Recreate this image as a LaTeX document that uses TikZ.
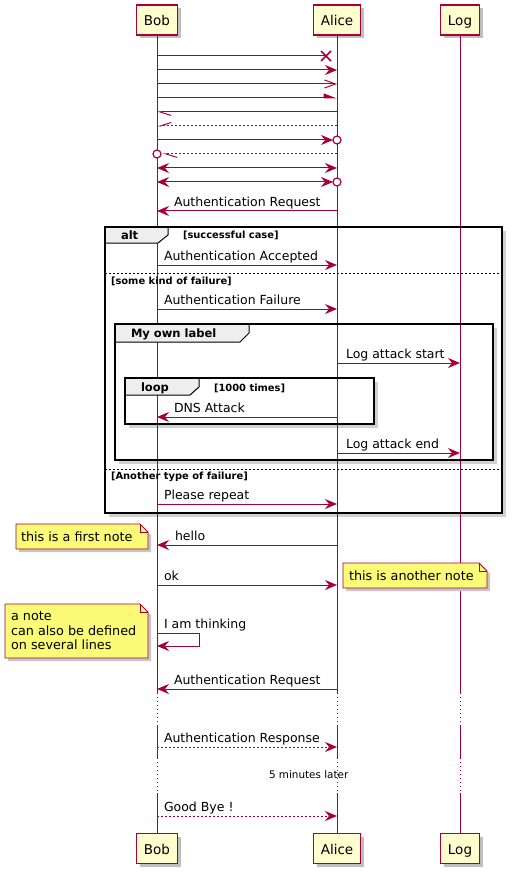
\documentclass[tikz,border=0pt]{standalone}
\usepackage{fontspec}
\setmainfont{DejaVu Sans}
\usetikzlibrary{arrows.meta,shadows,calc}
\definecolor{uline}{HTML}{A80036}
\definecolor{pfill}{HTML}{FEFECE}
\definecolor{nfill}{HTML}{FBFB77}
\definecolor{tabfill}{HTML}{EEEEEE}
\newcommand\umlnote[4]{%
  \fill[black!22] (#1+3,#2+3) -- (#3-8+3,#2+3) -- (#3+3,#2+8+3) -- (#3+3,#4+3) -- (#1+3,#4+3) -- cycle;
  \filldraw[fill=nfill,draw=uline,line width=0.8pt] (#1,#2) -- (#3-8,#2) -- (#3,#2+8) -- (#3,#4) -- (#1,#4) -- cycle;
  \draw[uline,line width=0.8pt] (#3-8,#2) -- (#3-8,#2+8) -- (#3,#2+8);}
\newcommand\umlfshadow[4]{%
  \fill[black!18] (#3+0.75,#2+4) rectangle (#3+3.5,#4+3.5);
  \fill[black!18] (#1+4,#4+0.75) rectangle (#3+3.5,#4+3.5);}
\begin{document}
\begin{tikzpicture}[x=1pt,y=-1pt,
  every node/.style={inner sep=0pt,outer sep=0pt},
  part/.style={draw=uline,fill=pfill,line width=1.3pt,minimum height=30pt,text height=11pt,text depth=0pt,
    font=\fontsize{13.5}{16}\selectfont,
    drop shadow={shadow xshift=3pt,shadow yshift=-3pt,opacity=0.25,fill=black}},
  life/.style={draw=uline,line width=0.9pt},
  lifedot/.style={life,dash pattern=on 1pt off 3pt},
  msg/.style={draw=uline,line width=1pt},
  dmsg/.style={msg,dash pattern=on 2pt off 2pt},
  txt/.style={anchor=base west,font=\fontsize{12.5}{15}\selectfont},
  glabel/.style={anchor=base west,font=\fontsize{11.5}{14}\selectfont\bfseries},
  gcond/.style={anchor=base west,font=\fontsize{9.9}{12}\selectfont\bfseries},
  umlframe/.style={draw=black,line width=1.5pt},
  umltab/.style={fill=tabfill,draw=black,line width=1pt},
  sepline/.style={draw=black,line width=0.8pt,dash pattern=on 2pt off 2pt},
  ntxt/.style={anchor=base west,font=\fontsize{12.8}{15}\selectfont},
  endcirc/.style={draw=uline,fill=white,line width=1.2pt},
  >={Stealth[length=12pt,width=10pt,inset=4pt]}
]
\fill[white] (0,0) rectangle (515,877);
\useasboundingbox (0,0) rectangle (515,877);

% frame shadows
\umlfshadow{105}{227}{502}{513}
\umlfshadow{115}{324}{493}{460}
\umlfshadow{125}{378}{374}{424}

% participants
\node[part,minimum width=41pt] (bob-top) at (157,20) {Bob};
\node[part,minimum width=47pt] (alice-top) at (337,20) {Alice};
\node[part,minimum width=39pt] (log-top) at (460,20) {Log};
\node[part,minimum width=41pt] (bob-bot) at (157,848.5) {Bob};
\node[part,minimum width=47pt] (alice-bot) at (337,848.5) {Alice};
\node[part,minimum width=39pt] (log-bot) at (460,848.5) {Log};

% lifelines
\foreach \p in {bob,alice,log}{
  \draw[life] (\p-top.south) -- (\p-top |- 0,693);
  \draw[lifedot] (\p-top |- 0,693) -- (\p-top |- 0,725);
  \draw[life] (\p-top |- 0,725) -- (\p-top |- 0,758);
  \draw[lifedot] (\p-top |- 0,758) -- (\p-top |- 0,793);
  \draw[life] (\p-top |- 0,793) -- (\p-bot.north);
}

% arrow variety
\coordinate (xend) at (326,56);
\draw[msg] (bob-top |- 0,56) -- (xend);
\draw[uline,line width=1.6pt] ($(xend)+(-5,-5)$) -- ($(xend)+(5,5)$) ($(xend)+(-5,5)$) -- ($(xend)+(5,-5)$);
\draw[msg,->] (bob-top |- 0,70) -- (alice-top |- 0,70);
\draw[msg,-{Straight Barb[length=11pt,width=8pt]}] (bob-top |- 0,84) -- (alice-top |- 0,84);
\draw[msg,-{Triangle[length=12pt,width=9pt,harpoon]}] (bob-top |- 0,98) -- (alice-top |- 0,98);
\draw[msg,-{Straight Barb[length=11pt,width=7pt,harpoon]}] (alice-top |- 0,112) -- (bob-top |- 0,112);
\draw[dmsg,-{Straight Barb[length=11pt,width=7pt,harpoon,swap]}] (alice-top |- 0,126) -- (bob-top |- 0,126);
\draw[msg,->] (bob-top |- 0,140) -- ($(alice-top |- 0,140)+(-4,0)$);
\draw[endcirc] (alice-top |- 0,140) circle (4pt);
\draw[dmsg,-{Straight Barb[length=11pt,width=7pt,harpoon]}] (alice-top |- 0,154) -- ($(bob-top |- 0,154)+(6,0)$);
\draw[endcirc] (bob-top |- 0,154) circle (4pt);
\draw[msg,<->] (bob-top |- 0,168) -- (alice-top |- 0,168);
\draw[msg,<->] (bob-top |- 0,182) -- ($(alice-top |- 0,182)+(-4,0)$);
\draw[endcirc] (alice-top |- 0,182) circle (4pt);

\draw[msg,->] (alice-top |- 0,211) -- (bob-top |- 0,211);
\node[txt] (m11) at (174,206.5) {Authentication Request};

% alt frame
\draw[umltab] (105,227) -- (168,227) -- (168,235) -- (158,243) -- (105,243) -- cycle;
\draw[umlframe] (105,227) rectangle (502,513);
\node[glabel] (altl) at (121,239.5) {alt};
\node[gcond] (altc) at (183,238.5) {[successful case]};
\draw[msg,->] (bob-top |- 0,265) -- (alice-top |- 0,265);
\node[txt] (m12) at (164,260.5) {Authentication Accepted};
\draw[sepline] (105,273) -- (502,273);
\node[gcond] (altc2) at (111,284) {[some kind of failure]};
\draw[msg,->] (bob-top |- 0,309) -- (alice-top |- 0,309);
\node[txt] (m13) at (164,304.5) {Authentication Failure};

% group
\draw[umltab] (115,324) -- (249,324) -- (249,333) -- (240,342) -- (115,342) -- cycle;
\draw[umlframe] (115,324) rectangle (493,460);
\node[glabel] (grl) at (131,337) {My own label};
\draw[msg,->] (alice-top |- 0,363) -- (log-top |- 0,363);
\node[txt] (m14) at (346,358.5) {Log attack start};

% loop
\draw[umltab] (125,378) -- (199,378) -- (199,387) -- (190,395) -- (125,395) -- cycle;
\draw[umlframe] (125,378) rectangle (374,424);
\node[glabel] (lpl) at (141,391) {loop};
\node[gcond] (lpc) at (214,391) {[1000 times]};
\draw[msg,->] (alice-top |- 0,417) -- (bob-top |- 0,417);
\node[txt] (m15) at (174,412.5) {DNS Attack};

\draw[msg,->] (alice-top |- 0,453) -- (log-top |- 0,453);
\node[txt] (m16) at (346,448.5) {Log attack end};

\draw[sepline] (105,469) -- (502,469);
\node[gcond] (altc3) at (111,479.5) {[Another type of failure]};
\draw[msg,->] (bob-top |- 0,504) -- (alice-top |- 0,504);
\node[txt] (m17) at (164,499.5) {Please repeat};

% notes and messages
\draw[msg,->] (alice-top |- 0,545) -- (bob-top |- 0,545);
\node[txt] (m18) at (175,540.5) {hello};
\umlnote{16}{524}{148}{549}
\node[ntxt] (n1) at (21,541) {this is a first note};

\draw[msg,->] (bob-top |- 0,585) -- (alice-top |- 0,585);
\node[txt] (m19) at (164,580.5) {ok};
\umlnote{343}{563}{487}{588}
\node[ntxt] (n2) at (349,580.5) {this is another note};

\draw[msg,->] (bob-top |- 0,633) -- (199,633) -- (199,646) -- (bob-top |- 0,646);
\node[txt] (m20) at (164,628.5) {I am thinking};
\umlnote{5}{604}{148}{658}
\node[ntxt] (n3a) at (11,620.5) {a note};
\node[ntxt] (n3b) at (11,635.2) {can also be defined};
\node[ntxt] (n3c) at (11,649.9) {on several lines};

\draw[msg,->] (alice-top |- 0,689) -- (bob-top |- 0,689);
\node[txt] (m21) at (174,684.5) {Authentication Request};

\draw[dmsg,->] (bob-top |- 0,747) -- (alice-top |- 0,747);
\node[txt] (m22) at (164,742.5) {Authentication Response};

\node[anchor=base west,font=\fontsize{10.4}{12}\selectfont] (delay) at (269,778.5) {5 minutes later};

\draw[dmsg,->] (bob-top |- 0,816) -- (alice-top |- 0,816);
\node[txt] (m23) at (164,811.5) {Good Bye !};
\end{tikzpicture}
\end{document}
